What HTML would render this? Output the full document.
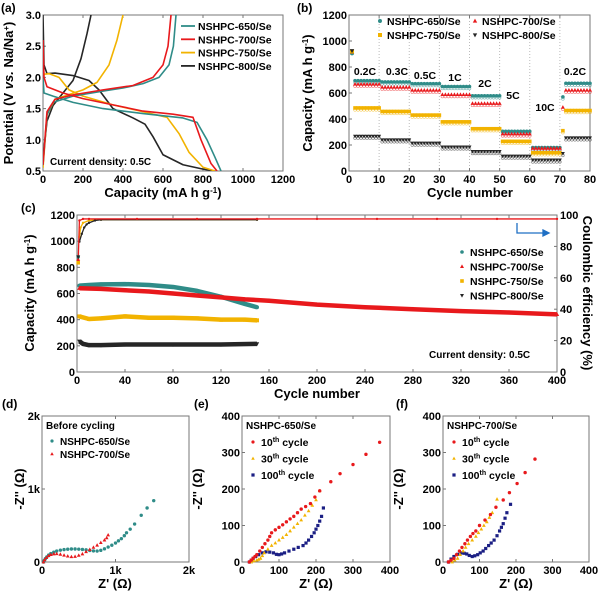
<!DOCTYPE html>
<html><head><meta charset="utf-8"><style>
html,body{margin:0;padding:0;background:#fff;}
svg{display:block;font-family:"Liberation Sans",Arial,sans-serif;font-weight:bold;}
</style></head><body>
<svg id="fig" width="600" height="593" viewBox="0 0 600 593">
<g font-size="12">
<text x="1" y="12">(a)</text>
<text x="297" y="12">(b)</text>
<text x="21" y="212">(c)</text>
<text x="2" y="408">(d)</text>
<text x="194" y="408">(e)</text>
<text x="396" y="408">(f)</text>
</g>
<g font-size="13">
<text transform="translate(13,93) rotate(-90)" text-anchor="middle">Potential (V <tspan font-style="italic">vs.</tspan> Na/Na<tspan dy="-4" font-size="8">+</tspan><tspan dy="4">)</tspan></text>
<text x="163" y="197" text-anchor="middle">Capacity (mA h g<tspan dy="-4" font-size="8">-1</tspan><tspan dy="4">)</tspan></text>
<text transform="translate(312,93) rotate(-90)" text-anchor="middle">Capacity (mA h g<tspan dy="-4" font-size="8">-1</tspan><tspan dy="4">)</tspan></text>
<text x="470" y="197" text-anchor="middle">Cycle number</text>
<text transform="translate(34,293) rotate(-90)" text-anchor="middle">Capacity (mA h g<tspan dy="-4" font-size="8">-1</tspan><tspan dy="4">)</tspan></text>
<text x="317" y="398" text-anchor="middle">Cycle number</text>
<text transform="translate(583,293) rotate(90)" text-anchor="middle">Coulombic efficiency (%)</text>
<text transform="translate(24,489) rotate(-90)" text-anchor="middle">-Z'' (Ω)</text>
<text x="115" y="588" text-anchor="middle">Z' (Ω)</text>
<text transform="translate(202,489) rotate(-90)" text-anchor="middle">-Z'' (Ω)</text>
<text x="316" y="588" text-anchor="middle">Z' (Ω)</text>
<text transform="translate(403,489) rotate(-90)" text-anchor="middle">-Z'' (Ω)</text>
<text x="516" y="588" text-anchor="middle">Z' (Ω)</text>
</g>
<g font-size="10">
<text x="50" y="165">Current density: 0.5C</text>
<text x="429" y="358">Current density: 0.5C</text>
</g>
<g font-size="10.5" text-anchor="middle">
<text x="365" y="75">0.2C</text><text x="397" y="75">0.3C</text><text x="425" y="79">0.5C</text>
<text x="455" y="81">1C</text><text x="485" y="87">2C</text><text x="513" y="99">5C</text>
<text x="545" y="111">10C</text><text x="575" y="75">0.2C</text>
</g>
<g stroke="#1f6fc4" stroke-width="1.3" fill="none">
<path d="M517 223 V233 H546"/><path d="M543 230 L549 233 L543 236 Z" fill="#1f6fc4"/>
</g>
</svg>
<script>
// ===== DATA =====
const a650Dis=[[0,2.0],[5,1.75],[50,1.7],[150,1.6],[300,1.5],[500,1.42],[700,1.35],[770,1.28],[820,1.0],[860,0.72],[890,0.5]];
const a650Chg=[[0,0.6],[20,1.4],[50,1.6],[150,1.7],[300,1.78],[400,1.83],[500,1.9],[580,2.0],[630,2.2],[652,2.5],[665,3.0]];
const a700Dis=[[0,2.6],[5,2.0],[20,1.85],[100,1.75],[200,1.66],[350,1.56],[500,1.46],[650,1.41],[750,1.36],[790,1.0],[840,0.62],[870,0.5]];
const a700Chg=[[0,0.6],[20,1.45],[60,1.65],[150,1.72],[300,1.8],[450,1.87],[550,2.0],[600,2.2],[625,2.5],[640,3.0]];
const a750Dis=[[0,2.05],[30,2.06],[80,2.0],[130,1.8],[200,1.7],[350,1.56],[500,1.45],[620,1.36],[680,1.1],[730,0.8],[800,0.56],[860,0.5]];
const a750Chg=[[0,0.55],[20,1.4],[60,1.65],[200,1.8],[270,1.92],[330,2.2],[370,2.6],[400,3.0]];
const a800Dis=[[0,3.0],[5,2.2],[20,2.06],[60,2.07],[150,2.03],[230,1.95],[280,1.8],[350,1.5],[450,1.35],[510,1.25],[550,1.05],[600,0.76],[700,0.6],[800,0.53],[860,0.5]];
const a800Chg=[[0,0.7],[20,1.3],[50,1.55],[100,1.75],[150,1.95],[190,2.3],[220,2.7],[240,3.0]];
const bRates=['0.2C','0.3C','0.5C','1C','2C','5C','10C','0.2C'];
const b650Levels=[695,685,672,650,578,305,180,675];
const b700Levels=[668,645,622,588,520,285,175,622];
const b750Levels=[485,458,430,378,325,228,140,465];
const b800Levels=[268,240,215,185,150,115,85,255];
const bFirst=[905,915,920,925];
const bCycle71=[570,490,310,135];
const c650Cyc=[2,10,20,40,60,80,100,120,140,150];
const c650Cap=[660,665,670,672,665,650,620,575,520,495];
const c700Cyc=[2,20,40,60,80,100,120,140,160,200,240,280,320,360,400];
const c700Cap=[640,635,625,615,600,585,570,555,545,515,495,480,465,455,440];
const c750Cyc=[2,10,20,40,60,80,100,120,140,150];
const c750Cap=[425,405,410,425,415,415,410,400,400,395];
const c800Cyc=[2,5,10,20,40,80,120,150];
const c800Cap=[235,215,205,205,210,210,210,215];
const cFirst=[880,860,835,880];
const cCE700Cyc=[1,2,5,10,50,100,150,200,250,300,350,400];
const cCE700=[70,96.5,97.5,97.5,97.5,97.5,97.5,97.5,97.5,97.5,97.5,97.5];
const cCE800Cyc=[2,4,6,8,10,15,20,150];
const cCE800=[83,88,92,94,95,96.5,97,97];
const cCE750Cyc=[2,3,5,10,20,150];
const cCE750=[86,92,95,96.5,97,97];
const d650=[[20,0],[30,20],[45,45],[65,70],[90,95],[120,115],[160,135],[200,150],[250,162],[300,170],[350,175],[400,178],[450,178],[500,176],[550,172],[600,166],[650,158],[700,152],[750,150],[800,160],[850,180],[900,205],[950,230],[1000,260],[1040,290],[1080,320],[1120,360],[1150,400],[1200,450],[1260,520],[1350,640],[1430,740],[1520,840]];
const d700=[[20,0],[35,30],[60,60],[90,85],[120,100],[160,110],[200,112],[250,105],[300,92],[350,80],[400,72],[450,75],[500,90],[550,110],[600,140],[650,170],[700,200],[750,230],[800,265],[850,300],[880,330],[900,370]];
const e10=[[20,0],[25,5],[30,10],[35,15],[40,20],[48,30],[55,40],[62,50],[70,60],[75,70],[80,80],[90,88],[100,95],[110,102],[120,110],[130,118],[140,125],[150,135],[160,145],[172,152],[185,160],[197,178],[210,195],[240,220],[265,242],[300,267],[335,295],[372,328]];
const e30=[[25,0],[32,3],[40,5],[45,7],[50,10],[55,17],[60,25],[70,35],[80,45],[90,52],[100,60],[110,67],[120,75],[130,85],[140,95],[150,105],[160,115],[170,128],[180,140],[190,155],[200,170],[210,195]];
const e100=[[20,0],[25,5],[30,10],[37,15],[45,20],[55,25],[65,28],[75,27],[85,25],[93,21],[100,20],[107,22],[115,25],[127,30],[140,35],[152,40],[165,45],[173,52],[180,60],[188,70],[195,80],[200,90],[205,100],[210,112],[215,125],[220,148]];
const f10=[[15,0],[22,5],[30,10],[37,20],[45,30],[52,40],[60,50],[67,60],[75,70],[82,78],[90,85],[100,100],[115,115],[130,130],[145,150],[165,170],[182,190],[203,215],[225,245],[252,282]];
const f30=[[25,0],[32,5],[40,10],[47,20],[55,30],[62,40],[70,50],[80,60],[90,70],[97,80],[105,90],[112,100],[120,110],[127,122],[135,135],[148,172]];
const f100=[[15,0],[22,8],[30,15],[40,21],[50,25],[58,24],[65,22],[72,18],[80,15],[87,17],[95,20],[102,25],[110,30],[117,37],[125,45],[132,52],[140,60],[148,72],[155,85],[160,95],[165,105],[170,120],[175,135],[185,158]];
const aXTicks=[0,200,400,600,800,1000,1200];
const aYTicks=[0.5,1.0,1.5,2.0,2.5,3.0];
const bXTicks=[0,10,20,30,40,50,60,70,80];
const bYTicks=[0,200,400,600,800,1000,1200];
const cXTicks=[0,40,80,120,160,200,240,280,320,360,400];
const cYTicks=[0,200,400,600,800,1000,1200];
const cY2Ticks=[0,20,40,60,80,100];
const dTicks=[0,1000,2000];
const dTickLabels=['0','1k','2k'];
const efTicks=[0,100,200,300,400];

// ===== HELPERS =====
const NS='http://www.w3.org/2000/svg';
const svg=document.getElementById('fig');
function el(tag,attrs,parent){const e=document.createElementNS(NS,tag);for(const k in attrs)e.setAttribute(k,attrs[k]);(parent||svg).appendChild(e);return e;}
function lin(d0,d1,r0,r1){return v=>r0+(v-d0)*(r1-r0)/(d1-d0);}
const C={t:'#2f8c88',r:'#e8191c',y:'#f2b300',k:'#262626',n:'#1b1f84'};

function axes(name,L,R,T,B,xs,ys,xt,yt,xl,yl){
  const g=el('g',{});
  
  
  el('rect',{x:L,y:T,width:R-L,height:B-T,fill:'none',stroke:'#777','stroke-width':1},g);
  xt.forEach((v,i)=>{const x=xs(v);
    el('line',{x1:x,x2:x,y1:B,y2:B-3,stroke:'#777'},g);
    el('line',{x1:x,x2:x,y1:T,y2:T+3,stroke:'#777'},g);
    const t=el('text',{x:x,y:B+12,'text-anchor':'middle','font-size':11},g);t.textContent=xl?xl[i]:v;});
  yt.forEach((v,i)=>{const y=ys(v);
    el('line',{x1:L,x2:L+3,y1:y,y2:y,stroke:'#777'},g);
    const t=el('text',{x:L-2,y:y+4,'text-anchor':'end','font-size':11},g);t.textContent=yl?yl[i]:v;});
  return g;
}
function line(pts,xs,ys,col,name,w){
  const p=el('polyline',{points:pts.map(q=>xs(q[0])+','+ys(q[1])).join(' '),fill:'none',stroke:col,'stroke-width':w||1.6,'stroke-linejoin':'round'});
  
  
  return p;
}
function mark(type,x,y,col,s,parent){
  s=s||2;let m;
  if(type==='c')m=el('circle',{cx:x,cy:y,r:s,fill:col},parent);
  else if(type==='s')m=el('rect',{x:x-s,y:y-s,width:2*s,height:2*s,fill:col},parent);
  else if(type==='u')m=el('path',{d:`M${x} ${y-s*1.2}L${x+s*1.1} ${y+s*0.8}L${x-s*1.1} ${y+s*0.8}Z`,fill:col},parent);
  else m=el('path',{d:`M${x} ${y+s*1.2}L${x+s*1.1} ${y-s*0.8}L${x-s*1.1} ${y-s*0.8}Z`,fill:col},parent);
  return m;
}
function legendText(x,y,str,name,size){
  const t=el('text',{x:x,y:y,'font-size':size||10.5});t.textContent=str;
  
  
  return t;
}

// ===== PANEL A =====
{const xs=lin(0,1200,43,283),ys=lin(0.5,3.0,171,15);
axes('a',43,283,15,171,xs,ys,aXTicks,aYTicks,null,aYTicks.map(v=>v.toFixed(1)));
const clip=el('clipPath',{id:'ca'});el('rect',{x:43,y:15,width:240,height:156},clip);
const g=el('g',{'clip-path':'url(#ca)'});


[[a800Dis,a800Chg,C.k,'800'],[a750Dis,a750Chg,C.y,'750'],[a650Dis,a650Chg,C.t,'650'],[a700Dis,a700Chg,C.r,'700']].forEach(s=>{
  g.appendChild(line(s[0],xs,ys,s[2],'a-discharge-'+s[3]));
  g.appendChild(line(s[1],xs,ys,s[2],'a-charge-'+s[3]));});
[['NSHPC-650/Se',C.t],['NSHPC-700/Se',C.r],['NSHPC-750/Se',C.y],['NSHPC-800/Se',C.k]].forEach((e,i)=>{
  const y=26+i*13.3;
  const l=el('line',{x1:181,x2:195,y1:y,y2:y,stroke:e[1],'stroke-width':1.8});
  
  
  legendText(198,y+4,e[0],'a-legend-entry');});}

// ===== PANEL B =====
{const xs=lin(0,80,349,590),ys=lin(0,1200,171,15);
for(let c=10;c<80;c+=10)el('line',{x1:xs(c),x2:xs(c),y1:15,y2:171,stroke:'#bbb','stroke-dasharray':'1,2'});
axes('b',349,590,15,171,xs,ys,bXTicks,bYTicks);
const sets=[[b650Levels,C.t,'c','650'],[b700Levels,C.r,'u','700'],[b750Levels,C.y,'s','750'],[b800Levels,C.k,'d','800']];
sets.forEach((s,si)=>{
  const g=el('g',{});
  
  
  mark(s[2],xs(1),ys(bFirst[si]),s[1],2,g);
  for(let c=2;c<=80;c++){
    const seg=Math.min(7,Math.floor((c-1)/10));
    let v=s[0][seg];
    if(c===71)v=bCycle71[si];
    el('circle',{cx:xs(c),cy:ys(v-15),r:1.4,fill:'none',stroke:s[1],'stroke-width':0.6,opacity:0.6},g);
    mark(s[2],xs(c),ys(v),s[1],1.8,g);
  }});
[['NSHPC-650/Se',C.t,'c',380,24],['NSHPC-700/Se',C.r,'u',475,24],['NSHPC-750/Se',C.y,'s',380,38],['NSHPC-800/Se',C.k,'d',475,38]].forEach(e=>{
  const m=mark(e[2],e[3],e[4]-3,e[1],2);
  
  
  legendText(e[3]+7,e[4]+1,e[0],'b-legend-entry');});}

// ===== PANEL C =====
{const xs=lin(0,400,77,557),ys=lin(0,1200,372,215),y2=lin(0,100,372,215);
const g=axes('c',77,557,215,372,xs,ys,cXTicks,cYTicks);
cY2Ticks.forEach(v=>{el('line',{x1:554,x2:557,y1:y2(v),y2:y2(v),stroke:'#777'},g);
  const t=el('text',{x:560,y:y2(v)+4,'font-size':11},g);t.textContent=v;});
const ce=(cy,cv,col,name)=>{line(cy.map((c,i)=>[c,cv[i]]),xs,y2,col,name,1.3);
  cy.forEach((c,i)=>mark('c',xs(c),y2(cv[i]),col,1.2));};
ce(cCE750Cyc,cCE750,C.y,'c-ce-750');ce(cCE800Cyc,cCE800,C.k,'c-ce-800');ce(cCE700Cyc,cCE700,C.r,'c-ce-700');
const cs=[[c650Cyc,c650Cap,C.t,'c','650'],[c750Cyc,c750Cap,C.y,'s','750'],[c800Cyc,c800Cap,C.k,'d','800'],[c700Cyc,c700Cap,C.r,'u','700']];
cs.forEach(s=>{
  line(s[0].map((c,i)=>[c,s[1][i]]),xs,ys,s[2],'c-capacity-'+s[4],4.5);
  s[0].forEach((c,i)=>mark(s[3],xs(c),ys(s[1][i]),s[2],2));});
[[cFirst[0],C.t,'c'],[cFirst[1],C.r,'u'],[cFirst[2],C.y,'s'],[cFirst[3],C.k,'d']].forEach(f=>mark(f[2],xs(1),ys(f[0]),f[1],1.8));
[['NSHPC-650/Se',C.t,'c'],['NSHPC-700/Se',C.r,'u'],['NSHPC-750/Se',C.y,'s'],['NSHPC-800/Se',C.k,'d']].forEach((e,i)=>{
  const y=252+i*14.5;
  const m=mark(e[2],462,y,e[1],1.8);
  
  
  legendText(470,y+4,e[0],'c-legend-entry');});}

// ===== PANEL D =====
{const xs=lin(0,2000,42,189),ys=lin(0,2000,562,416);
axes('d',42,189,416,562,xs,ys,dTicks,dTicks,dTickLabels,dTickLabels);
d650.forEach(p=>mark('c',xs(p[0]),ys(p[1]),C.t,1.7));
d700.forEach(p=>mark('u',xs(p[0]),ys(p[1]),C.r,1.7));
legendText(46,429,'Before cycling','d-legend-title',10);
mark('c',52,441,C.t,1.6);legendText(60,445,'NSHPC-650/Se','d-legend-entry',10);
mark('u',52,454,C.r,1.6);legendText(60,458,'NSHPC-700/Se','d-legend-entry',10);}

// ===== PANELS E, F =====
function eis(name,L,R,title,s10,s30,s100){
  const xs=lin(0,400,L,R),ys=lin(0,400,562,416);
  axes(name,L,R,416,562,xs,ys,efTicks,efTicks);
  s100.forEach(p=>mark('s',xs(p[0]),ys(p[1]),C.n,1.6));
  s30.forEach(p=>mark('u',xs(p[0]),ys(p[1]),C.y,1.7));
  s10.forEach(p=>mark('c',xs(p[0]),ys(p[1]),C.r,1.7));
  legendText(L+4,429,title,name+'-legend-title',10);
  [['10',C.r,'c'],['30',C.y,'u'],['100',C.n,'s']].forEach((e,i)=>{
    const y=442+i*16.5;
    mark(e[2],L+11,y,e[1],1.6);
    const t=legendText(L+19,y+4,e[0],name+'-legend-entry',10.5);
    const sup=el('tspan',{dy:-4,'font-size':7},t);sup.textContent='th';
    const rest=el('tspan',{dy:4},t);rest.textContent=' cycle';});
}
eis('e',242,390,'NSHPC-650/Se',e10,e30,e100);
eis('f',443,589,'NSHPC-700/Se',f10,f30,f100);
</script>
</body></html>
